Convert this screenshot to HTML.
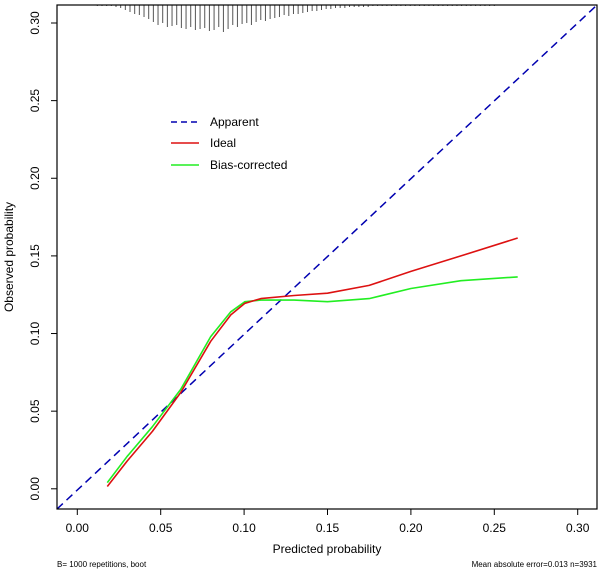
<!DOCTYPE html>
<html><head><meta charset="utf-8"><style>
body{margin:0;background:#fff}
svg{display:block;font-family:"Liberation Sans",Arial,sans-serif}
</style></head><body>
<svg id="c" width="600" height="571"></svg>
<script>
const xTicks=[0,0.05,0.10,0.15,0.20,0.25,0.30];
const xTickLabels=["0.00","0.05","0.10","0.15","0.20","0.25","0.30"];
const yTicks=[0,0.05,0.10,0.15,0.20,0.25,0.30];
const yTickLabels=["0.00","0.05","0.10","0.15","0.20","0.25","0.30"];
const idealX=[0.018,0.03,0.045,0.062,0.08,0.092,0.1005,0.11,0.13,0.15,0.175,0.2,0.23,0.264];
const idealY=[0.0015,0.018,0.037,0.062,0.095,0.112,0.1195,0.1225,0.1245,0.126,0.131,0.14,0.15,0.1615];
const biasX=[0.018,0.03,0.045,0.062,0.08,0.092,0.1005,0.11,0.13,0.15,0.175,0.2,0.23,0.264];
const biasY=[0.004,0.021,0.040,0.064,0.098,0.114,0.1205,0.1215,0.1215,0.1205,0.1225,0.129,0.134,0.1365];
const rugX=[];for(let i=0;i<86;i++)rugX.push(+(0.012+i*0.0028).toFixed(4));
const rugLen=[1,1,1,1,2,3,5,7,9,10,12,14,17,20,18,22,21,20,23,24,22,25,24,23,26,25,22,27,24,20,22,19,18,20,17,15,16,14,13,12,10,11,9,9,8,7,6,6,5,4,4,3,3,3,2,2,2,2,2,1,1,1,1,1,1,1,1,1,1,1,1,1,1,1,1,1,1,1,1,1,1,1,1,1,1,1];

const L=57,R=597,T=5,B=509;
const X0=77.3,XS=1668,Y0=488.8,YS=1552.7;
const sx=v=>X0+v*XS, sy=v=>Y0-v*YS;
const svg=document.getElementById('c');
const NS='http://www.w3.org/2000/svg';
function mk(t,a,p){const e=document.createElementNS(NS,t);for(const k in a)e.setAttribute(k,a[k]);(p||svg).appendChild(e);return e;}

// rug
const rg=mk('g',{});


rugX.forEach((v,i)=>{mk('line',{x1:sx(v),x2:sx(v),y1:T,y2:T+rugLen[i],stroke:'#555','stroke-width':1},rg);});

// diagonal apparent
const dA=mk('line',{x1:L,y1:B,x2:R,y2:T,stroke:'#0000b0','stroke-width':1.5,'stroke-dasharray':'8,5'});



function path(xs,ys){return xs.map((x,i)=>(i?'L':'M')+sx(x).toFixed(1)+' '+sy(ys[i]).toFixed(1)).join(' ');}
const pb=mk('path',{d:path(biasX,biasY),fill:'none',stroke:'#22ee22','stroke-width':1.6,'stroke-linejoin':'round'});


const pi=mk('path',{d:path(idealX,idealY),fill:'none',stroke:'#dd1111','stroke-width':1.6,'stroke-linejoin':'round'});



// box
const bx=mk('rect',{x:L,y:T,width:R-L,height:B-T,fill:'none',stroke:'#000','stroke-width':1.2});



// x axis
xTicks.forEach((v,i)=>{
 mk('line',{x1:sx(v),x2:sx(v),y1:B,y2:B+6,stroke:'#000'});
 const t=mk('text',{x:sx(v),y:B+23,'font-size':12,'text-anchor':'middle'});t.textContent=xTickLabels[i];
 
 
});
yTicks.forEach((v,i)=>{
 mk('line',{x1:L-6,x2:L,y1:sy(v),y2:sy(v),stroke:'#000'});
 const t=mk('text',{x:0,y:0,'font-size':12,'text-anchor':'middle',transform:`translate(39,${sy(v)}) rotate(-90)`});t.textContent=yTickLabels[i];
 
 
});
const xt=mk('text',{x:327,y:553,'font-size':12,'text-anchor':'middle'});xt.textContent='Predicted probability';


const yt=mk('text',{x:0,y:0,'font-size':12,'text-anchor':'middle',transform:'translate(13,257) rotate(-90)'});yt.textContent='Observed probability';


const f1=mk('text',{x:57,y:567,'font-size':8});f1.textContent='B= 1000 repetitions, boot';


const f2=mk('text',{x:597,y:567,'font-size':8,'text-anchor':'end'});f2.textContent='Mean absolute error=0.013 n=3931';



// legend
const lg=mk('g',{});


[['Apparent','#0000b0','6,4',122],['Ideal','#dd1111','',143],['Bias-corrected','#22ee22','',165]].forEach(e=>{
 const l=mk('line',{x1:171,x2:199,y1:e[3],y2:e[3],stroke:e[1],'stroke-width':1.5},lg);if(e[2])l.setAttribute('stroke-dasharray',e[2]);
 const t=mk('text',{x:210,y:e[3]+4,'font-size':12},lg);t.textContent=e[0];
 
 
});
</script>
</body></html>
